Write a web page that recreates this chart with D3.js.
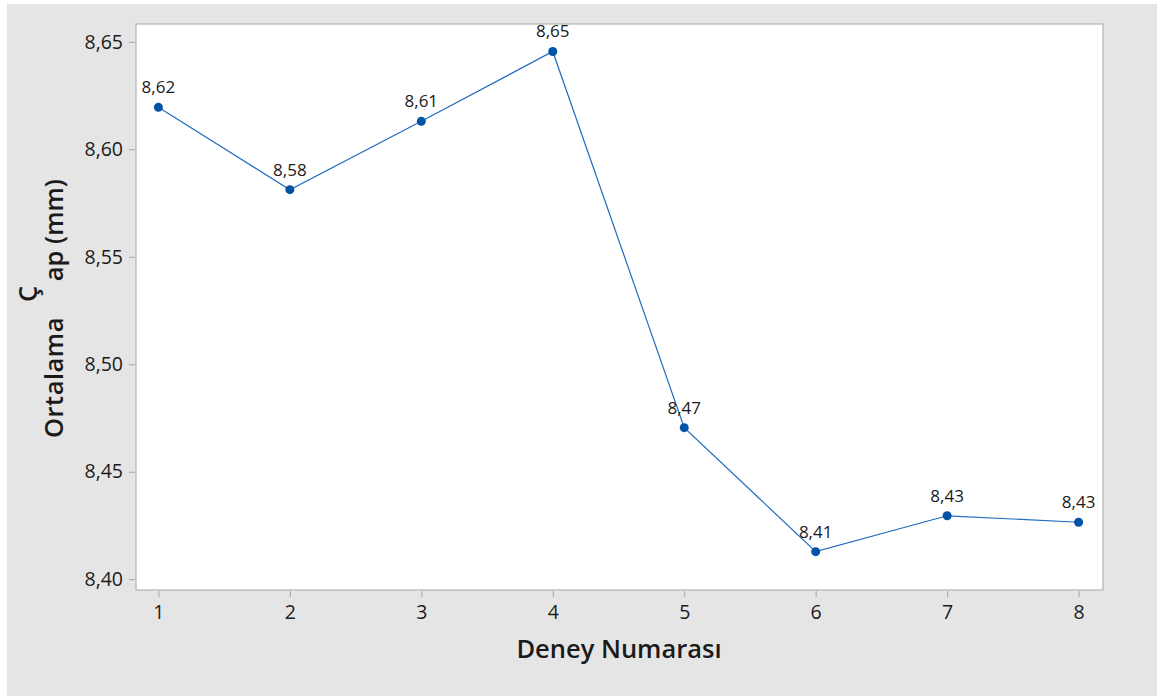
<!DOCTYPE html>
<html>
<head>
<meta charset="utf-8">
<script src="https://cdn.jsdelivr.net/npm/d3@7"></script>
<style>
  html, body { margin: 0; padding: 0; background: #ffffff; }
  svg { display: block; }
  text { font-family: "Open Sans", "Noto Sans", sans-serif; }
</style>
</head>
<body>
<svg id="chart" width="1163" height="696"></svg>
<script>
// Deney numaraları ve ortalama çap değerleri (mm)
const experiments = [1, 2, 3, 4, 5, 6, 7, 8];
const meanDiameter = [8.6195, 8.5812, 8.6130, 8.6455, 8.4705, 8.4128, 8.4295, 8.4265];
const valueLabels = ["8,62", "8,58", "8,61", "8,65", "8,47", "8,41", "8,43", "8,43"];
const yTicks = [8.40, 8.45, 8.50, 8.55, 8.60, 8.65];
const yTickLabels = ["8,40", "8,45", "8,50", "8,55", "8,60", "8,65"];

const svg = d3.select("#chart");

// Gray figure background
svg.append("rect")
  .attr("x", 7).attr("y", 4)
  .attr("width", 1150).attr("height", 692)
  .attr("fill", "#e5e5e5");

const plot = { left: 136, top: 24, right: 1103, bottom: 590 };

// White data region
svg.append("rect")
  .attr("x", plot.left).attr("y", plot.top)
  .attr("width", plot.right - plot.left).attr("height", plot.bottom - plot.top)
  .attr("fill", "#ffffff")
  .attr("stroke", "#b3b3b3")
  .attr("stroke-width", 1.2);

const x = d3.scaleLinear().domain([1, 8]).range([158.4, 1078.6]);
const y = d3.scaleLinear().domain([8.40, 8.65]).range([579.2, 41.8]);

// Y axis
const yAxis = d3.axisLeft(y)
  .tickValues(yTicks)
  .tickFormat((d, i) => yTickLabels[i])
  .tickSize(6)
  .tickPadding(6);
const gy = svg.append("g")
  .attr("transform", `translate(${plot.left - 1},0)`)
  .call(yAxis);
gy.select(".domain").remove();
gy.selectAll(".tick line").attr("stroke", "#a6a6a6");
gy.selectAll(".tick text")
  .attr("fill", "#1a1a1a")
  .style("font-size", "19.5px")
  .style("font-family", "'Open Sans', sans-serif");

// X axis
const xAxis = d3.axisBottom(x)
  .tickValues(experiments)
  .tickFormat(d3.format("d"))
  .tickSize(6)
  .tickPadding(8);
const gx = svg.append("g")
  .attr("transform", `translate(0,${plot.bottom + 1})`)
  .call(xAxis);
gx.select(".domain").remove();
gx.selectAll(".tick line").attr("stroke", "#a6a6a6");
gx.selectAll(".tick text")
  .attr("fill", "#1a1a1a")
  .style("font-size", "19.5px")
  .style("font-family", "'Open Sans', sans-serif");

// Axis titles
svg.append("text")
  .attr("x", 619).attr("y", 658)
  .attr("text-anchor", "middle")
  .attr("fill", "#1a1a1a")
  .style("font-size", "25.5px")
  .style("font-weight", "600")
  .text("Deney Numarası");

const yTitle = svg.append("text")
  .attr("transform", "translate(63,438) rotate(-90)")
  .attr("text-anchor", "start")
  .attr("fill", "#1a1a1a")
  .style("font-size", "25.5px")
  .style("font-weight", "600");
yTitle.append("tspan").attr("letter-spacing", 0.5).text("Ortalama ");
yTitle.append("tspan").attr("dx", 8).attr("dy", -26).attr("letter-spacing", 0).text("Ç");
yTitle.append("tspan").attr("dx", 4.5).attr("dy", 26).text("ap (mm)");

// Line and points
const data = experiments.map((e, i) => ({ e, v: meanDiameter[i], label: valueLabels[i] }));

svg.append("path")
  .datum(data)
  .attr("fill", "none")
  .attr("stroke", "#1f6cbf")
  .attr("stroke-width", 1.2)
  .attr("d", d3.line().x(d => x(d.e)).y(d => y(d.v)));

svg.selectAll("circle.pt")
  .data(data)
  .join("circle")
  .attr("class", "pt")
  .attr("cx", d => x(d.e))
  .attr("cy", d => y(d.v))
  .attr("r", 4.5)
  .attr("fill", "#0054a6");

svg.selectAll("text.val")
  .data(data)
  .join("text")
  .attr("class", "val")
  .attr("x", d => x(d.e))
  .attr("y", d => y(d.v) - 14)
  .attr("text-anchor", "middle")
  .attr("fill", "#1a1a1a")
  .style("font-size", "17px")
  .text(d => d.label);
</script>
</body>
</html>
